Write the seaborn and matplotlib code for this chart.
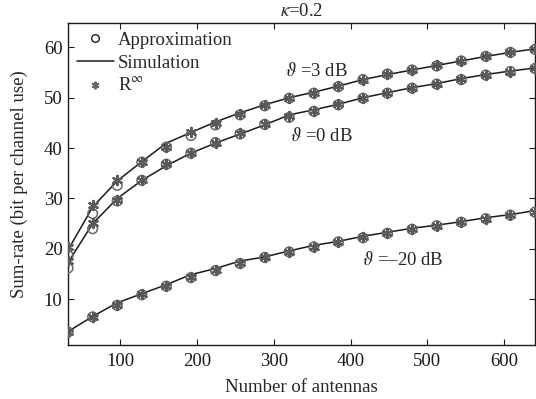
import numpy as np
import pandas as pd
import matplotlib
matplotlib.use("Agg")
import matplotlib.pyplot as plt
import seaborn as sns
from matplotlib.lines import Line2D

sns.set_theme(style="ticks")
plt.rcParams['font.family'] = ['Liberation Serif', 'DejaVu Serif']
plt.rcParams['mathtext.fontset'] = 'stix'

antennas = [32, 64, 96, 128, 160, 192, 224, 256, 288, 320, 352, 384, 416, 448, 480, 512, 544, 576, 608, 640]

approx_3dB = [18.7, 27.0, 32.6, 37.2, 40.2, 42.5, 44.6, 46.6, 48.4, 49.9, 50.9, 52.2, 53.6, 54.7, 55.5, 56.3, 57.3, 58.2, 59.0, 59.6]
rinf_3dB = [20.3, 28.7, 33.6, 37.3, 40.3, 43.2, 45.0, 46.8, 48.5, 50.0, 51.0, 52.3, 53.6, 54.7, 55.5, 56.4, 57.3, 58.2, 59.0, 59.6]
sim_3dB = [19.8, 28.3, 33.5, 37.3, 41.0, 43.1, 45.2, 47.0, 48.6, 50.0, 51.1, 52.3, 53.6, 54.6, 55.5, 56.4, 57.3, 58.2, 59.0, 59.7]

approx_0dB = [16.2, 24.0, 29.5, 33.6, 36.8, 39.0, 41.1, 42.8, 44.7, 46.1, 47.3, 48.6, 49.9, 50.9, 51.9, 52.7, 53.6, 54.5, 55.2, 55.8]
rinf_0dB = [17.5, 25.1, 29.8, 33.7, 36.8, 39.0, 41.1, 42.9, 44.8, 46.3, 47.4, 48.7, 50.0, 51.0, 51.9, 52.8, 53.7, 54.5, 55.2, 55.8]
sim_0dB = [17.3, 25.0, 30.0, 33.6, 36.5, 39.0, 41.0, 42.8, 44.6, 46.6, 47.6, 48.7, 50.0, 51.0, 52.0, 52.8, 53.8, 54.6, 55.3, 55.9]

approx_m20dB = [3.5, 6.5, 8.8, 10.9, 12.6, 14.3, 15.7, 17.1, 18.3, 19.4, 20.4, 21.4, 22.2, 23.1, 23.9, 24.6, 25.3, 26.0, 26.7, 27.3]
rinf_m20dB = [3.5, 6.5, 8.9, 11.0, 12.7, 14.4, 15.8, 17.2, 18.3, 19.4, 20.4, 21.4, 22.3, 23.1, 23.9, 24.6, 25.3, 26.0, 26.7, 27.3]
sim_m20dB = [3.6, 6.6, 9.3, 11.1, 12.9, 14.9, 16.1, 17.6, 18.4, 19.6, 20.7, 21.5, 22.5, 23.3, 24.1, 24.7, 25.4, 26.2, 26.8, 27.6]

snr_labels = ["3 dB", "0 dB", "-20 dB"]

rows = []
for snr, a, r, s in zip(snr_labels,
                        [approx_3dB, approx_0dB, approx_m20dB],
                        [rinf_3dB, rinf_0dB, rinf_m20dB],
                        [sim_3dB, sim_0dB, sim_m20dB]):
    for n, av, rv, sv in zip(antennas, a, r, s):
        rows.append(dict(snr=snr, N=n, approx=av, rinf=rv, sim=sv))
df = pd.DataFrame(rows)

fig = plt.figure(figsize=(5.36, 3.99), dpi=100)
ax = fig.add_axes([0.127, 0.135, 0.871, 0.807])

fs = 13.5
gray = '#666666'
for snr in snr_labels:
    d = df[df.snr == snr]
    sns.lineplot(data=d, x='N', y='sim', ax=ax, color='#1a1a1a', lw=1.1,
                 estimator=None, sort=False, legend=False)
ax.scatter(df['N'], df['approx'], s=48, facecolors='none', edgecolors=gray, linewidths=1.1, zorder=3)
ax.scatter(df['N'], df['rinf'], s=44, marker=(6, 2, 0), color='#5a5a5a', linewidths=1.6, zorder=4)

ax.set_xlim(32, 640)
ax.set_ylim(0.9, 64.8)
ax.set_xticks([100, 200, 300, 400, 500, 600])
ax.set_yticks([10, 20, 30, 40, 50, 60])
ax.tick_params(direction='in', top=True, right=True, labelsize=fs, length=4.5, width=0.8,
               colors='#1a1a1a')
ax.tick_params(axis='x', pad=5.5)
ax.tick_params(axis='y', pad=4)
for sp in ax.spines.values():
    sp.set_linewidth(1.0)
    sp.set_color('#1a1a1a')
ax.set_xlabel('Number of antennas', fontsize=fs, labelpad=7)
ax.set_ylabel('Sum-rate (bit per channel use)', fontsize=fs, labelpad=11)
ax.set_title(r'$\kappa$=0.2', fontsize=fs, pad=5)

ax.text(355, 55.4, r'$\vartheta$ =3 dB', fontsize=fs, ha='center', va='center')
ax.text(362, 42.5, r'$\vartheta$ =0 dB', fontsize=fs, ha='center', va='center')
ax.text(468, 17.7, r'$\vartheta$ =–20 dB', fontsize=fs, ha='center', va='center')

handles = [
    Line2D([], [], ls='none', marker='o', mfc='none', mec='#1a1a1a', ms=5.5),
    Line2D([], [], color='#1a1a1a', lw=1.1),
    Line2D([], [], ls='none', marker=(6, 2, 0), color=gray, ms=5.5, mew=1.4),
]
ax.legend(handles, ['Approximation', 'Simulation', r'R$^{\infty}$'], loc='upper left',
          frameon=False, fontsize=fs, handlelength=2.0, handletextpad=0.2,
          labelspacing=0.32, borderaxespad=0.25, borderpad=0.2)

fig.savefig('out.png', dpi=100)
